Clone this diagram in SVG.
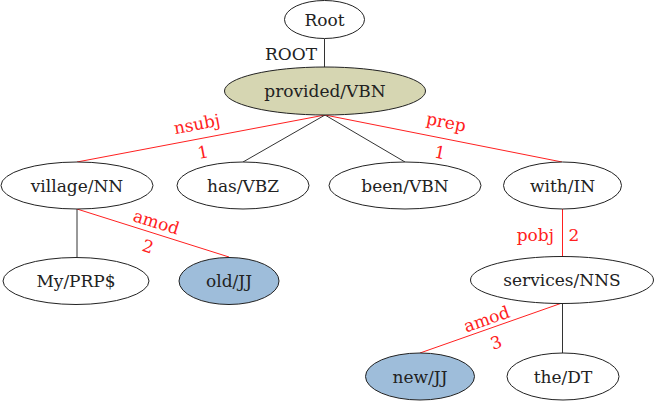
<svg xmlns="http://www.w3.org/2000/svg" width="654" height="401" viewBox="0 0 654 401">
<style>
.n ellipse{fill:#fff;stroke:#222;stroke-width:1}
.n.hl ellipse{fill:#d6d6b2}
.n.bl ellipse{fill:#9ebdda}
text{font-family:"DejaVu Serif","Liberation Serif",serif;font-size:17px;fill:#222;text-anchor:middle}
.e line{stroke:#333;stroke-width:1}
.e line.r{stroke:#ff2020}
text.rl{fill:#ff2020}
</style>
<g id="connectors" class="e">
<line x1="324.5" y1="39" x2="324.5" y2="67"/>
<line class="r" x1="325" y1="115" x2="77" y2="162"/>
<line x1="325" y1="115" x2="243" y2="162"/>
<line x1="325" y1="115" x2="405" y2="162"/>
<line class="r" x1="325" y1="115" x2="562" y2="162"/>
<line x1="77" y1="209" x2="77" y2="257"/>
<line class="r" x1="77" y1="209" x2="229" y2="257"/>
<line class="r" x1="562.5" y1="209" x2="562.5" y2="257"/>
<line class="r" x1="562" y1="303" x2="420" y2="353"/>
<line x1="562.5" y1="303" x2="562.5" y2="353"/>
<text x="317" y="60" style="text-anchor:end">ROOT</text>
<text class="rl" transform="translate(197,125) rotate(-10.7)" y="5">nsubj</text>
<text class="rl" transform="translate(203,152) rotate(-10.7)" y="6">1</text>
<text class="rl" transform="translate(446,123) rotate(11.2)" y="5">prep</text>
<text class="rl" transform="translate(440,152.5) rotate(11.2)" y="6">1</text>
<text class="rl" transform="translate(156,223) rotate(17.5)" y="5">amod</text>
<text class="rl" transform="translate(148,246.5) rotate(17.5)" y="6">2</text>
<text class="rl" x="554" y="241" style="text-anchor:end">pobj</text>
<text class="rl" x="574" y="241">2</text>
<text class="rl" transform="translate(487,320) rotate(-19.4)" y="5">amod</text>
<text class="rl" transform="translate(496,342.5) rotate(-19.4)" y="6">3</text>
</g>
<g id="root" class="n"><ellipse cx="324.5" cy="19.5" rx="40" ry="19"/><text x="324.5" y="25.5">Root</text></g>
<g id="provided" class="n hl"><ellipse cx="325" cy="91" rx="100.5" ry="24"/><text x="325" y="97">provided/VBN</text></g>
<g id="village" class="n"><ellipse cx="77" cy="185.5" rx="76" ry="23.5"/><text x="77" y="191.5">village/NN</text></g>
<g id="has" class="n"><ellipse cx="243" cy="185.5" rx="66" ry="23.5"/><text x="243" y="191.5">has/VBZ</text></g>
<g id="been" class="n"><ellipse cx="405" cy="185.5" rx="76" ry="23.5"/><text x="405" y="191.5">been/VBN</text></g>
<g id="with" class="n"><ellipse cx="562.5" cy="185.5" rx="59" ry="23.5"/><text x="562.5" y="191.5">with/IN</text></g>
<g id="my" class="n"><ellipse cx="76" cy="281" rx="73" ry="23.5"/><text x="76" y="287">My/PRP$</text></g>
<g id="old" class="n bl"><ellipse cx="229" cy="281" rx="50" ry="23.5"/><text x="229" y="287">old/JJ</text></g>
<g id="services" class="n"><ellipse cx="562" cy="280" rx="91.5" ry="23.5"/><text x="562" y="286">services/NNS</text></g>
<g id="new" class="n bl"><ellipse cx="420" cy="376.5" rx="54.5" ry="23.5"/><text x="420" y="382.5">new/JJ</text></g>
<g id="the" class="n"><ellipse cx="563" cy="376.5" rx="56" ry="23.5"/><text x="563" y="382.5">the/DT</text></g>
</svg>
